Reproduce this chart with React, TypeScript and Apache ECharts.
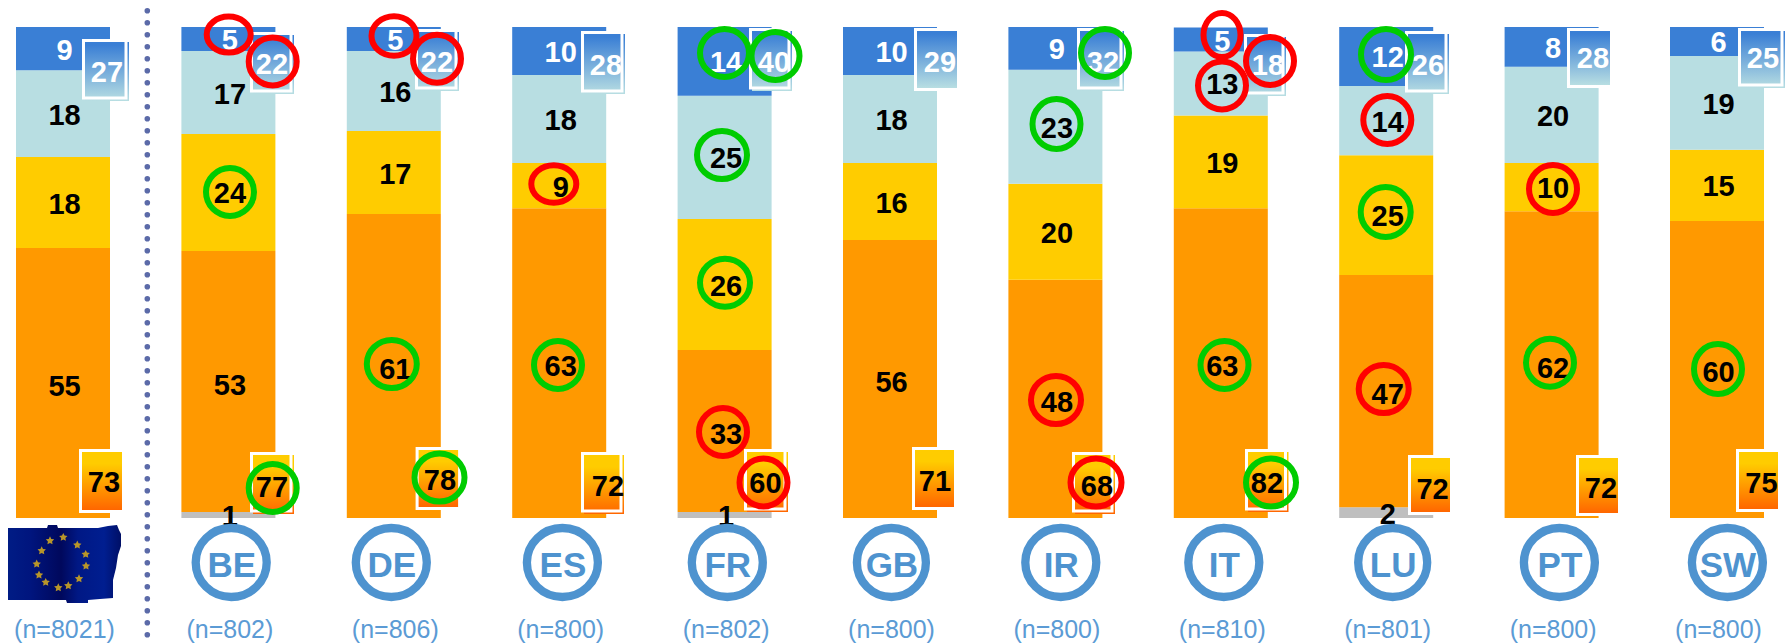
import React, { useEffect, useRef } from "react";
import * as echarts from "echarts";

const categories = ["EU", "BE", "DE", "ES", "FR", "GB", "IR", "IT", "LU", "PT", "SW"];
const sampleSizes = ["8021", "802", "806", "800", "802", "800", "800", "810", "801", "800", "800"];

// Segment shares
const greyShare = [0, 1.2, 0, 0, 1.2, 0, 0, 0, 2.2, 0, 0];
const orangeShare = [55.0, 53.2, 61.9, 63.1, 33.0, 56.6, 48.5, 63.1, 47.3, 62.5, 60.5];
const yellowShare = [18.5, 23.8, 16.9, 9.2, 26.7, 15.7, 19.6, 18.9, 24.4, 9.8, 14.5];
const lightShare = [17.7, 16.9, 16.3, 17.9, 25.1, 17.9, 23.2, 13.0, 14.1, 19.6, 19.1];
const blueShare = [8.8, 4.9, 4.9, 9.8, 14.3, 9.8, 8.8, 4.9, 12.0, 8.1, 6.1];

// Printed numbers
const greyLabels = ["", "1", "", "", "1", "", "", "", "2", "", ""];
const orangeLabels = [55, 53, 61, 63, 33, 56, 48, 63, 47, 62, 60];
const yellowLabels = [18, 24, 17, 9, 26, 16, 20, 19, 25, 10, 15];
const lightLabels = [18, 17, 16, 18, 25, 18, 23, 13, 14, 20, 19];
const blueLabels = [9, 5, 5, 10, 14, 10, 9, 5, 12, 8, 6];
const topTotals = [27, 22, 22, 28, 40, 29, 32, 18, 26, 28, 25];
const bottomTotals = [73, 77, 78, 72, 60, 71, 68, 82, 72, 72, 75];

// Layout only. Offsets are px from the bar's centre and from the top of the value axis.
// [dx, dy, width, height, closed frame, text dx, text dy]
const TOP_BOX = [
  [19, 12, 47, 62, 1, 25, 33], [21.6, 5, 44, 62, 1, 22, 32], [21.2, 2, 44, 62, 1, 22, 33],
  [21.8, 4, 44, 63, 1, 25, 34], [24.4, 1, 43, 63, 1, 25, 34], [24, 1, 43, 63, 0, 26, 34],
  [21.6, 1, 47, 63, 1, 26, 34], [23.2, 7, 42, 62, 1, 24, 31], [18.8, 4, 44, 63, 1, 23, 34],
  [15.4, 1, 43, 60, 0, 26, 30], [21, 1, 47, 60, 1, 25, 30],
];
const BOTTOM_BOX = [
  [16, 422, 43, 64, 0, 25, 33], [21.6, 425, 44, 62, 1, 22, 35], [21.8, 420, 42.5, 63, 0, 24.4, 33],
  [21.8, 425, 43, 62, 1, 27, 34], [19.4, 422, 44, 63, 1, 21.5, 34], [22, 420, 42, 63, 0, 23, 34],
  [16.6, 425, 43, 62, 1, 25, 34], [24.2, 422, 43.5, 63, 1, 22, 34], [21.8, 428, 42, 60, 0, 24.6, 34],
  [24.4, 428, 42, 61, 0, 25, 33], [19, 422, 42, 63, 0, 25.5, 34],
];
const BADGE_DX = [0, 2.8, -2.5, 3.2, 2.7, 1.4, 5.4, 3, 6.5, 7.8, 10.4];
const BADGE_RX = [0, 35.5, 35.5, 35.5, 35.5, 34.5, 35.5, 35.5, 34.5, 35.5, 35.5];

const RED = "#FF0000";
const GREEN = "#00CC00";
// [bar, colour, dx, dy, rx, ry]
const RINGS: [number, string, number, number, number, number][] = [
  [1, RED, 0.3, 7.6, 25, 21], [1, RED, 44.3, 34.5, 27, 27], [1, GREEN, 1.6, 165, 27, 27], [1, GREEN, 44.3, 461, 27, 27],
  [2, RED, 0.2, 9, 25.5, 22.7], [2, RED, 43.2, 31.7, 27, 27], [2, GREEN, -2, 337, 28, 27], [2, GREEN, 45.7, 450.5, 28, 27],
  [3, RED, -5.4, 157, 25.5, 21.7], [3, GREEN, -1.2, 338, 27, 27],
  [4, GREEN, -0.1, 26, 27.5, 27], [4, GREEN, 50.9, 29, 27, 27], [4, GREEN, -2.6, 128, 28, 27], [4, GREEN, 0.4, 255.7, 28, 27],
  [4, RED, -1.6, 405, 27, 27], [4, RED, 38.9, 455.5, 27, 27],
  [6, GREEN, 49.6, 26, 27, 27], [6, GREEN, 1.1, 97, 27, 28], [6, RED, 0.6, 373, 28, 27], [6, RED, 40.6, 455.5, 28.5, 27],
  [7, RED, 1.2, 8, 21.5, 25], [7, RED, 1.2, 58.5, 27, 27], [7, RED, 49.2, 34, 27, 27], [7, GREEN, 3.7, 338, 27, 27], [7, GREEN, 50.2, 455.5, 28, 27],
  [8, GREEN, -0.2, 27.5, 28, 28.5], [8, RED, 1.1, 93, 27, 27], [8, GREEN, -0.5, 185, 28, 28], [8, RED, -2.5, 362, 28, 27],
  [9, RED, 1.4, 162, 27, 27], [9, GREEN, -1.6, 335.7, 27, 27],
  [10, GREEN, 1, 342, 27, 28],
];

const STAR_CENTRES = [
  [50, 540.7], [63.3, 537.3], [77.3, 545], [85.7, 554.3], [86, 566], [79, 578.7],
  [68.3, 585.7], [58.3, 587.7], [45.7, 582.3], [39, 575], [36.7, 564], [41.7, 550.7],
];

const FONT = "'Liberation Sans', Arial, sans-serif";
const BADGE_BLUE = "#4E93CF";
const NUM_SIZE = 29;

const FLAG_PATH =
  "M8 528 L47 528 L48 525 L57 525 L58 528 L98 528 L108 526 L117 525 L119 530 L121 534 L121 546 L118 555 L116 568 L113 580 L113 598 L100 599 L88 600 L88 603 L67 603 L66 600 L8 600 Z";

function starPoints(cx: number, cy: number, r: number) {
  const pts: number[][] = [];
  for (let k = 0; k < 10; k++) {
    const a = -Math.PI / 2 + (k * Math.PI) / 5;
    const rad = k % 2 === 0 ? r : r * 0.5;
    pts.push([cx + rad * Math.cos(a), cy + rad * Math.sin(a)]);
  }
  return pts;
}

function boxItem(
  api: any,
  layout: number[],
  text: number,
  stops: [string, string],
  mid: number,
  textColor: string,
) {
  const top = api.coord([api.value(0), 100]);
  const [dx, dy, w, h, closed, tx, ty] = layout;
  const L = top[0] + dx;
  const T = top[1] + dy;
  const grad = new echarts.graphic.LinearGradient(0, 0, 0, 1, [
    { offset: 0, color: stops[0] },
    { offset: mid, color: stops[0] },
    { offset: 1, color: stops[1] },
  ]);
  const children: any[] = [];
  if (closed) {
    children.push({ type: "rect", shape: { x: L + 3, y: T + 3, width: w - 3, height: h - 3 }, style: { fill: grad } });
    children.push({
      type: "rect",
      shape: { x: L + 1.5, y: T + 1.5, width: w - 4.5, height: h - 4.5 },
      style: { fill: "none", stroke: "#FFFFFF", lineWidth: 3 },
    });
  } else {
    children.push({ type: "rect", shape: { x: L, y: T, width: w, height: h }, style: { fill: "#FFFFFF" } });
    children.push({ type: "rect", shape: { x: L + 3, y: T + 3, width: w - 3, height: h - 6 }, style: { fill: grad } });
  }
  children.push({
    type: "text",
    style: {
      text: String(text),
      x: L + tx,
      y: T + ty,
      align: "center",
      verticalAlign: "middle",
      fill: textColor,
      fontSize: NUM_SIZE,
      fontWeight: "bold",
      fontFamily: FONT,
    },
  });
  return { type: "group", children };
}

function stackSeries(
  name: string,
  values: number[],
  labels: (number | string)[],
  color: string,
  textColor: string,
  dy: number,
) {
  return {
    name,
    type: "bar",
    stack: "total",
    barWidth: 94,
    data: values,
    itemStyle: { color },
    silent: true,
    label: {
      show: true,
      position: "inside",
      offset: [1.5, dy],
      formatter: (p: any) => String(labels[p.dataIndex]),
      color: textColor,
      fontSize: NUM_SIZE,
      fontWeight: "bold",
      fontFamily: FONT,
    },
  };
}

export default function App() {
  const ref = useRef<HTMLDivElement>(null);
  useEffect(() => {
    if (!ref.current) return;
    echarts.graphic.registerShape("euflag", echarts.graphic.extendPath(FLAG_PATH, {}));
    const chart = echarts.init(ref.current, undefined, { renderer: "svg" });
    const idx = categories.map((_, i) => [i, 0]);
    chart.setOption({
      animation: false,
      backgroundColor: "#FFFFFF",
      grid: { left: -19.7, top: 27, width: 1819.4, height: 491, containLabel: false, outerBoundsMode: "none" },
      xAxis: {
        type: "category",
        data: categories,
        axisLine: { show: false },
        axisTick: { show: false },
        axisLabel: {
          interval: 0,
          margin: 98,
          color: "#5B9BD5",
          fontSize: 25,
          fontFamily: FONT,
          padding: [0, 0, 0, 3],
          formatter: (_: string, i: number) => `(n=${sampleSizes[i]})`,
        },
      },
      yAxis: { type: "value", min: 0, max: 100, show: false, splitLine: { show: false } },
      series: [
        stackSeries("No answer", greyShare, greyLabels, "#BFBFBF", "#000000", 1),
        stackSeries("Orange", orangeShare, orangeLabels, "#FF9900", "#000000", 3),
        stackSeries("Yellow", yellowShare, yellowLabels, "#FFCC00", "#000000", 1),
        stackSeries("Light", lightShare, lightLabels, "#B8DEE2", "#000000", 1),
        stackSeries("Blue", blueShare, blueLabels, "#3A7FD5", "#FFFFFF", 1),
        {
          type: "custom",
          name: "Bottom total",
          z: 3,
          data: idx,
          encode: { x: 0, y: 1 },
          silent: true,
          renderItem: (p: any, api: any) =>
            boxItem(api, BOTTOM_BOX[p.dataIndex], bottomTotals[p.dataIndex], ["#FFCC00", "#FF6600"], 0.2, "#000000"),
        },
        {
          type: "custom",
          name: "Top total",
          z: 3,
          data: idx,
          encode: { x: 0, y: 1 },
          silent: true,
          renderItem: (p: any, api: any) =>
            boxItem(api, TOP_BOX[p.dataIndex], topTotals[p.dataIndex], ["#3A7FD5", "#B8DEE2"], 0.05, "#FFFFFF"),
        },
        {
          type: "custom",
          name: "Country",
          z: 4,
          data: idx.slice(1),
          encode: { x: 0, y: 1 },
          silent: true,
          renderItem: (p: any, api: any) => {
            const i = p.dataIndex + 1;
            const base = api.coord([api.value(0), 0]);
            const cx = base[0] + BADGE_DX[i];
            const cy = base[1] + 44.5;
            return {
              type: "group",
              children: [
                {
                  type: "ellipse",
                  shape: { cx, cy, rx: BADGE_RX[i], ry: 34.5 },
                  style: { fill: "none", stroke: BADGE_BLUE, lineWidth: 8.3 },
                },
                {
                  type: "text",
                  style: {
                    text: categories[i],
                    x: cx + 0.5,
                    y: cy + 2,
                    align: "center",
                    verticalAlign: "middle",
                    fill: BADGE_BLUE,
                    fontSize: 35,
                    fontWeight: "bold",
                    fontFamily: FONT,
                  },
                },
              ],
            };
          },
        },
        {
          type: "custom",
          name: "Rings",
          z: 5,
          data: RINGS.map((r) => [r[0], 100]),
          encode: { x: 0, y: 1 },
          silent: true,
          renderItem: (p: any, api: any) => {
            const [, color, dx, dy, rx, ry] = RINGS[p.dataIndex];
            const top = api.coord([api.value(0), 100]);
            return {
              type: "ellipse",
              shape: { cx: top[0] + dx, cy: top[1] + dy, rx: rx - 3, ry: ry - 3 },
              style: { fill: "none", stroke: color, lineWidth: 6 },
            };
          },
        },
      ],
      graphic: [
        {
          type: "line",
          silent: true,
          shape: { x1: 147.3, y1: 10.7, x2: 147.3, y2: 640 },
          style: { stroke: "#5B6AA8", lineWidth: 5.6, lineCap: "round", lineDash: [0.01, 11.99] },
        },
        {
          type: "euflag",
          silent: true,
          x: 0,
          y: 0,
          style: {
            fill: new echarts.graphic.LinearGradient(0, 0, 1, 0, [
              { offset: 0, color: "#001C85" },
              { offset: 0.2, color: "#00157E" },
              { offset: 0.47, color: "#00085C" },
              { offset: 0.62, color: "#001885" },
              { offset: 0.85, color: "#001E90" },
              { offset: 1, color: "#000F66" },
            ]),
          },
        },
        ...STAR_CENTRES.map(([cx, cy]) => ({
          type: "polygon",
          silent: true,
          shape: { points: starPoints(cx, cy, 4.4) },
          style: { fill: "#B8962A" },
        })),
      ],
    });
    return () => chart.dispose();
  }, []);
  return (
    <div
      ref={ref}
      style={{ position: "fixed", left: 0, top: 0, width: 1792, height: 644 }}
    />
  );
}
